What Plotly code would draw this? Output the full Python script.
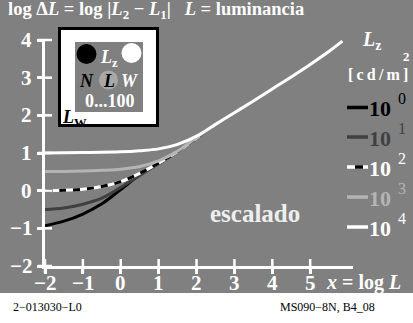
import plotly.graph_objects as go

# ---- data ----
lz_labels = ['0', '1', '2', '3', '4']   # exponents of Lz = 10^n cd/m2

x_lz0 = [-2, -1.5, -1, -0.5, 0, 0.5, 1, 1.5, 2, 2.2]
y_lz0 = [-0.93, -0.81, -0.62, -0.35, 0.03, 0.42, 0.72, 1.04, 1.40, 1.55]

x_lz1 = [-2, -1.5, -1, -0.5, 0, 0.4, 1, 1.5, 2, 2.2]
y_lz1 = [-0.50, -0.46, -0.36, -0.20, 0.09, 0.34, 0.72, 1.04, 1.40, 1.55]

x_lz2 = [-2, -1.5, -1, -0.5, 0, 0.5, 1, 1.5, 2, 2.2]
y_lz2 = [0.0, 0.01, 0.04, 0.11, 0.24, 0.46, 0.73, 1.04, 1.40, 1.55]

x_lz3 = [-2, -1.5, -1, -0.5, 0, 0.5, 1, 1.5, 2, 2.2]
y_lz3 = [0.51, 0.51, 0.52, 0.54, 0.57, 0.64, 0.79, 1.05, 1.41, 1.55]

x_lz4 = [-2, -1, 0, 0.5, 1, 1.5, 2, 2.5, 3, 3.5, 4, 4.5, 5, 5.5, 5.85]
y_lz4 = [1.0, 1.01, 1.03, 1.06, 1.11, 1.23, 1.45, 1.76, 2.07, 2.38, 2.70, 3.02, 3.35, 3.70, 3.97]

x_ticks = [-2, -1, 0, 1, 2, 3, 4, 5]
y_ticks = [-2, -1, 0, 1, 2, 3, 4]
x_ticktext = ['−2', '−1', '0', '1', '2', '3', '4', '5']
y_ticktext = ['−2', '−1', '0', '1', '2', '3', '4']

GRAY = '#808080'
DARK = '#404040'
LIGHT = '#b4b4b4'
FONT = 'Liberation Serif'

# plot box in pixels (413 x 323 figure)
L, R, T, B = 45, 353, 40, 266


def fx(px):
    return (px - L) / (R - L)


def fy(py):
    return (B - py) / (B - T)


fig = go.Figure()

curves = [
    (x_lz0, y_lz0, 'black', None),
    (x_lz1, y_lz1, DARK, None),
    (x_lz2, y_lz2, 'white', None),
    (x_lz2, y_lz2, 'black', '7px,7px'),
    (x_lz3, y_lz3, LIGHT, None),
    (x_lz4, y_lz4, 'white', None),
]
for xs, ys, col, dash in curves:
    fig.add_trace(go.Scatter(
        x=xs, y=ys, mode='lines', line_shape='spline',
        line=dict(color=col, width=3, dash=dash if dash else 'solid'),
        showlegend=False, hoverinfo='skip'
    ))

# tick crosses on both sides of the axes
fig.add_trace(go.Scatter(
    x=x_ticks, y=[-2] * len(x_ticks), mode='markers', cliponaxis=False,
    marker=dict(symbol='line-ns', size=10, line=dict(color='white', width=2.5)),
    showlegend=False, hoverinfo='skip'
))
fig.add_trace(go.Scatter(
    x=[-2] * len(y_ticks), y=y_ticks, mode='markers', cliponaxis=False,
    marker=dict(symbol='line-ew', size=10, line=dict(color='white', width=2.5)),
    showlegend=False, hoverinfo='skip'
))

shapes = []
# white strip at the bottom
shapes.append(dict(type='rect', xref='paper', yref='paper', layer='below',
                   x0=fx(-5), x1=fx(420), y0=fy(330), y1=fy(293),
                   fillcolor='white', line_width=0))

# inset symbol box
shapes.append(dict(type='rect', xref='paper', yref='paper',
                   x0=fx(59.5), x1=fx(157.5), y0=fy(125.5), y1=fy(28.5),
                   fillcolor='white', line=dict(color='black', width=3)))
shapes.append(dict(type='rect', xref='paper', yref='paper',
                   x0=fx(75), x1=fx(143), y0=fy(112), y1=fy(42),
                   fillcolor=GRAY, line_width=0))
for cx, cy, r, col in [(86.5, 54, 10, 'black'), (131.5, 53, 10, 'white'),
                       (108.5, 80, 9.5, '#a8a8a8')]:
    shapes.append(dict(type='circle', xref='paper', yref='paper',
                       x0=fx(cx - r), x1=fx(cx + r), y0=fy(cy + r), y1=fy(cy - r),
                       fillcolor=col, line_width=0))

# legend line samples
leg_y = [107.5, 137, 167, 197, 227]
leg_col = ['black', DARK, 'white', LIGHT, 'white']
for yy, col in zip(leg_y, leg_col):
    shapes.append(dict(type='line', xref='paper', yref='paper',
                       x0=fx(347), x1=fx(368), y0=fy(yy), y1=fy(yy),
                       line=dict(color=col, width=3.5)))
shapes.append(dict(type='line', xref='paper', yref='paper',
                   x0=fx(355), x1=fx(363), y0=fy(167), y1=fy(167),
                   line=dict(color='black', width=3.5)))

ann = []


def text(px, py, s, size, color='white', anchor='left'):
    ann.append(dict(x=fx(px), y=fy(py), xref='paper', yref='paper', text=s,
                    showarrow=False, xanchor=anchor, yanchor='middle',
                    font=dict(family=FONT, size=size, color=color)))


# tick labels, placed on the data scale
for v, t in zip(x_ticks, x_ticktext):
    ann.append(dict(x=v, y=fy(283), xref='x', yref='paper', text='<b>%s</b>' % t,
                    showarrow=False, xanchor='center', yanchor='middle',
                    font=dict(family=FONT, size=21, color='white')))
for v, t in zip(y_ticks, y_ticktext):
    ann.append(dict(x=fx(34), y=v, xref='paper', yref='y', text='<b>%s</b>' % t,
                    showarrow=False, xanchor='right', yanchor='middle',
                    font=dict(family=FONT, size=21, color='white')))

text(6, 11, '<b>log Δ<i>L</i> = log |<i>L</i><sub>2</sub> − <i>L</i><sub>1</sub>|   '
     '<i>L</i> = luminancia</b>', 18.5)

# inset labels
text(98, 58, '<b><i>L</i><sub>z</sub></b>', 18)
text(86, 81, '<b><i>N</i></b>', 18, 'black', 'center')
text(108.5, 81, '<b><i>L</i></b>', 18, 'black', 'center')
text(130, 81, '<b><i>W</i></b>', 18, 'white', 'center')
text(110, 101, '<b>0...100</b>', 18, 'white', 'center')
text(60, 118, '<b><i>L</i><sub>W</sub></b>', 18, 'black')

# legend texts
text(360, 40, '<b><i>L</i><sub>z</sub></b>', 20)
text(401, 56, '<b>2</b>', 13)
text(346, 74, '<b>[\u2009c\u2009d\u2009/\u2009m\u2009]</b>', 16)
leg_txt = ['black', DARK, 'white', LIGHT, 'white']
for yy, col, ex in zip(leg_y, leg_txt, lz_labels):
    text(367, yy + 1, '<b>10</b>', 22, col)
    text(396, yy - 9, ex, 16, col)

text(255, 213, '<b>escalado</b>', 25, '#eeeeee', 'center')
text(324, 282, '<b><i>x</i> = log <i>L</i></b>', 20)

text(11, 307, '2−013030−L0', 12, 'black')
text(278, 307, 'MS090−8N, B4_08', 12, 'black')

axis_style = dict(showgrid=False, zeroline=False, showticklabels=False,
                  showline=True, linecolor='white', linewidth=3,
                  ticks='outside', ticklen=5, tickwidth=2.5, tickcolor='white')

fig.update_layout(
    width=413, height=323,
    margin=dict(l=L, r=413 - R, t=T, b=323 - B),
    paper_bgcolor=GRAY, plot_bgcolor=GRAY,
    font=dict(family=FONT, color='white'),
    showlegend=False,
    shapes=shapes, annotations=ann,
    xaxis=dict(range=[-2, 6.13], tickvals=x_ticks, **axis_style),
    yaxis=dict(range=[-2, 4], tickvals=y_ticks, **axis_style),
)

fig.write_html("out.html", config={'displayModeBar': False},
               post_script="document.body.style.margin='0';")
